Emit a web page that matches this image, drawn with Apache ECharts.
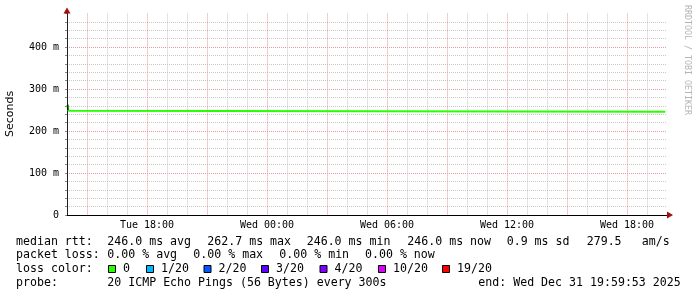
<!DOCTYPE html>
<html>
<head>
<meta charset="utf-8">
<script src="https://cdn.jsdelivr.net/npm/echarts@6/dist/echarts.min.js"></script>
<style>
html,body{margin:0;padding:0;background:#fff;}
#c{width:697px;height:297px;}
</style>
</head>
<body>
<div id="c"></div>
<script>
// ---- data ----
const axisStart = '2025-12-30 14:00';
const axisEnd = '2025-12-31 20:00';
const medianTimes = ['2025-12-30 14:00', '2025-12-30 14:05', '2025-12-30 14:10', '2025-12-31 19:55'];
const medianValues = [262, 248, 246.0, 246.0];           // ms
const smokeTimes = ['2025-12-30 14:00'];
const smokeLow = [250];
const smokeHigh = [263];
const yTickLabels = ['0', '100 m', '200 m', '300 m', '400 m'];
const lossLabels = ['0', '1/20', '2/20', '3/20', '4/20', '10/20', '19/20'];
const lossColors = ['#26ff00', '#00b8ff', '#0059ff', '#5e00ff', '#7e00ff', '#dd00ff', '#ff0000'];
const legendRtt = ['median rtt:', '246.0 ms avg', '262.7 ms max', '246.0 ms min', '246.0 ms now', '0.9 ms sd', '279.5', 'am/s'];
const legendLoss = ['packet loss:', '0.00 % avg', '0.00 % max', '0.00 % min', '0.00 % now'];
const legendProbe = ['probe:', '20 ICMP Echo Pings (56 Bytes) every 300s', 'end: Wed Dec 31 19:59:53 2025'];
const yAxisTitle = 'Seconds';
const watermark = 'RRDTOOL / TOBI OETIKER';

// ---- helpers ----
function utc(s) {
  const m = s.match(/(\d+)-(\d+)-(\d+) (\d+):(\d+)/);
  return Date.UTC(+m[1], +m[2] - 1, +m[3], +m[4], +m[5]);
}
const DAYS = ['Sun', 'Mon', 'Tue', 'Wed', 'Thu', 'Fri', 'Sat'];
const HOUR = 3600000;
const xMin = utc(axisStart), xMax = utc(axisEnd);
const Y_MAX = 480;
const medianData = medianTimes.map((t, i) => [utc(t), medianValues[i]]);
const smokeData = smokeTimes.map((t, i) => [utc(t), smokeLow[i], smokeHigh[i]]);

const MONO = '"DejaVu Sans Mono", monospace';
const GRAY = '#c8c8c8', PINK = '#e99a9a';
const LEG_FONT = '11.6px ' + MONO;

// ---- layout (pixel positions of legend pieces) ----
const rowY = [241.5, 255.3, 269.3, 283.3];
const rttX = [16, 107.3, 207.3, 306.7, 407.3, 506.7, 586.7, 641.7];
const lossX = [16, 107.3, 193.3, 279.3, 365];
const probeX = [16, 107.3, 478.3];
const boxX = [108, 146, 203.5, 261, 319.5, 378, 442];

const graphics = [];
function addText(str, x, y, extra) {
  graphics.push(Object.assign({
    type: 'text', x: x, y: y,
    style: { text: str, font: LEG_FONT, fill: '#000', align: 'left', verticalAlign: 'middle' }
  }, extra || {}));
}
legendRtt.forEach((s, i) => addText(s, rttX[i], rowY[0]));
legendLoss.forEach((s, i) => addText(s, lossX[i], rowY[1]));
addText('loss color:', 16, rowY[2]);
lossLabels.forEach((s, i) => {
  graphics.push({
    type: 'rect',
    shape: { x: boxX[i] + 0.5, y: 265.5, width: 7, height: 7 },
    style: { fill: lossColors[i], stroke: '#000', lineWidth: 1 }
  });
  addText(s, boxX[i] + 15, rowY[2]);
});
legendProbe.forEach((s, i) => addText(s, probeX[i], rowY[3]));
graphics.push({
  type: 'text', x: 10.5, y: 114, rotation: Math.PI / 2,
  style: { text: yAxisTitle, font: '11px "DejaVu Sans", sans-serif', fill: '#000', align: 'center', verticalAlign: 'middle' }
});
graphics.push({
  type: 'text', x: 687.5, y: 60, rotation: -Math.PI / 2,
  style: { text: watermark, font: '8.3px ' + MONO, fill: '#b4b4b4', align: 'center', verticalAlign: 'middle' }
});

const gridRect = { left: 67, top: 13.4, width: 600, height: 201.6 };

const chart = echarts.init(document.getElementById('c'), null, { renderer: 'canvas' });
chart.setOption({
  animation: false,
  backgroundColor: '#fff',
  grid: [Object.assign({}, gridRect), Object.assign({}, gridRect)],
  xAxis: [{
    type: 'value', gridIndex: 0, min: xMin, max: xMax, interval: HOUR,
    axisLine: { show: true, onZero: false, lineStyle: { color: '#000', width: 1 } },
    axisTick: { show: false },
    axisLabel: {
      margin: 5, color: '#000', fontFamily: MONO, fontSize: 10,
      showMinLabel: true, showMaxLabel: true,
      formatter: function (v) {
        const d = new Date(v);
        if (d.getUTCHours() % 6 !== 0 || d.getUTCMinutes() !== 0) return '';
        const hh = String(d.getUTCHours()).padStart(2, '0');
        return DAYS[d.getUTCDay()] + ' ' + hh + ':00';
      }
    },
    // first drawn line is 15:00 (min line hidden) -> major every 3rd
    splitLine: {
      show: true, showMinLine: false, showMaxLine: false,
      lineStyle: { color: [PINK, GRAY, GRAY], width: 1, type: [1, 1] }
    }
  }, {
    type: 'value', gridIndex: 1, min: xMin, max: xMax,
    axisLine: {
      show: true, onZero: false, symbol: ['none', 'triangle'], symbolSize: [7, 6], symbolOffset: [0, 3],
      lineStyle: { color: '#a01010', opacity: 0 }
    },
    axisTick: { show: false }, axisLabel: { show: false }, splitLine: { show: false }
  }],
  yAxis: [{
    type: 'value', gridIndex: 0, min: 0, max: Y_MAX, interval: 20,
    axisLine: { show: true, onZero: false, lineStyle: { color: '#222', width: 1 } },
    axisTick: { show: true, length: 2, lineStyle: { color: '#888' } },
    axisLabel: {
      margin: 8, color: '#000', fontFamily: MONO, fontSize: 10,
      formatter: function (v) { return v % 100 === 0 ? yTickLabels[v / 100] : ''; }
    },
    // first drawn line is 20 (min line hidden) -> major at 100, 200, ...
    splitLine: {
      show: true, showMinLine: false, showMaxLine: false,
      lineStyle: { color: [GRAY, GRAY, GRAY, GRAY, PINK], width: 1, type: [1, 1] }
    }
  }, {
    type: 'value', gridIndex: 1, min: 0, max: Y_MAX,
    axisLine: {
      show: true, onZero: false, symbol: ['none', 'triangle'], symbolSize: [7, 6], symbolOffset: [0, 3],
      lineStyle: { color: '#a01010', opacity: 0 }
    },
    axisTick: { show: false }, axisLabel: { show: false }, splitLine: { show: false }
  }],
  series: [{
    type: 'line', xAxisIndex: 0, yAxisIndex: 0,
    data: medianData, showSymbol: false, symbol: 'none',
    lineStyle: { color: lossColors[0], width: 2 }, z: 3
  }, {
    type: 'custom', xAxisIndex: 0, yAxisIndex: 0, data: smokeData, z: 4,
    renderItem: function (params, api) {
      const lo = api.coord([api.value(0), api.value(1)]);
      const hi = api.coord([api.value(0), api.value(2)]);
      return { type: 'rect', shape: { x: lo[0], y: hi[1], width: 1.5, height: lo[1] - hi[1] }, style: { fill: '#111' } };
    }
  }],
  graphic: graphics
});
</script>
</body>
</html>
